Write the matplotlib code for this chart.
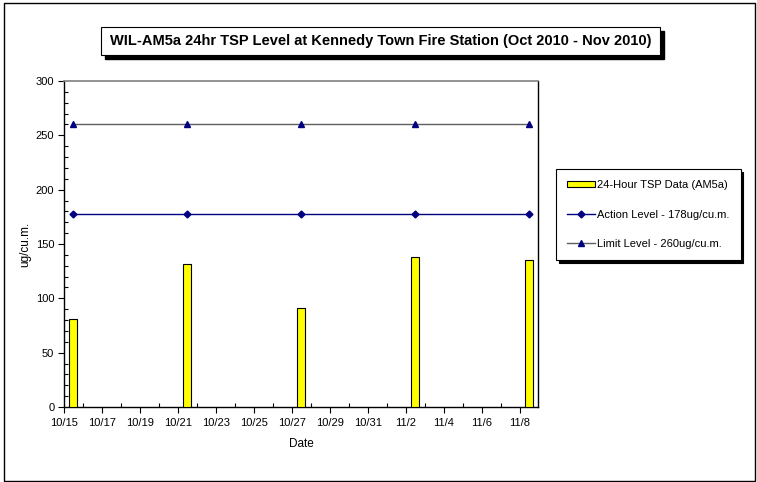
import datetime
import matplotlib
matplotlib.use("Agg")
import matplotlib.pyplot as plt
import matplotlib.dates as mdates
from matplotlib.patches import Rectangle
from matplotlib.ticker import FuncFormatter, MultipleLocator, FixedLocator

plt.rcParams['font.family'] = ['Liberation Sans', 'DejaVu Sans']

# sampling dates and 24hr TSP values (ug/cu.m.)
dates = ['2010-10-15', '2010-10-21', '2010-10-27', '2010-11-02', '2010-11-08']
tsp = [81, 132, 91, 138, 135]
action_level = [178, 178, 178, 178, 178]
limit_level = [260, 260, 260, 260, 260]

title = 'WIL-AM5a 24hr TSP Level at Kennedy Town Fire Station (Oct 2010 - Nov 2010)'
labels = ['24-Hour TSP Data (AM5a)', 'Action Level - 178ug/cu.m.', 'Limit Level - 260ug/cu.m.']

W, H = 757, 482
fig = plt.figure(figsize=(W / 100, H / 100), dpi=100)
ax = fig.add_axes([64 / W, 1 - 407 / H, (538 - 64) / W, (407 - 81) / H])

# samples are plotted at noon of each day
x = [mdates.date2num(datetime.datetime.strptime(d, '%Y-%m-%d')) + 0.47 for d in dates]
bw = 0.42

# grey shadow behind each bar, then the bar itself
ax.bar([v + 0.07 for v in x], tsp, width=bw, color='#808080', edgecolor='none', zorder=2)
bars = ax.bar(x, tsp, width=bw, color='#ffff00', edgecolor='black', linewidth=0.8, zorder=3)
la, = ax.plot(x, action_level, color='#000080', marker='D', markersize=3.5, linewidth=1, zorder=4)
ll, = ax.plot(x, limit_level, color='#606060', marker='^', markersize=5,
              markerfacecolor='#000080', markeredgecolor='#000080', linewidth=1, zorder=4)

start = mdates.date2num(datetime.datetime(2010, 10, 15))
ax.set_xlim(start, start + 24.95)
ax.set_ylim(0, 300)

ax.xaxis.set_major_locator(FixedLocator([start + d for d in range(0, 25, 2)]))
ax.xaxis.set_minor_locator(FixedLocator([start + d for d in range(1, 25, 2)]))
ax.xaxis.set_major_formatter(FuncFormatter(
    lambda v, p: '%d/%d' % (mdates.num2date(v).month, mdates.num2date(v).day)))
ax.yaxis.set_major_locator(MultipleLocator(50))
ax.yaxis.set_minor_locator(MultipleLocator(10))
ax.tick_params(which='major', direction='out', length=4, labelsize=8, width=0.8)
ax.tick_params(which='minor', direction='in', length=3, width=0.8)
ax.tick_params(axis='x', pad=4)
ax.tick_params(axis='y', pad=3)

ax.spines['top'].set_color('#808080')
ax.spines['top'].set_linewidth(1.2)
for s in ['left', 'bottom', 'right']:
    ax.spines[s].set_linewidth(1)

ax.set_xlabel('Date', fontsize=8.5, labelpad=7)
ax.set_ylabel('ug/cu.m.', fontsize=8.5, labelpad=3)

# title in a box with a drop shadow
tx0, ty0, tx1, ty1 = 101, 27, 660, 55
fig.add_artist(Rectangle(((tx0 + 4) / W, 1 - (ty1 + 4) / H), (tx1 - tx0) / W, (ty1 - ty0) / H,
                         transform=fig.transFigure, facecolor='black', edgecolor='black', zorder=1))
fig.add_artist(Rectangle((tx0 / W, 1 - ty1 / H), (tx1 - tx0) / W, (ty1 - ty0) / H,
                         transform=fig.transFigure, facecolor='white', edgecolor='black',
                         linewidth=0.8, zorder=2))
fig.text((tx0 + tx1) / 2 / W, 1 - (ty0 + ty1) / 2 / H, title, ha='center', va='center',
         fontsize=10.5, fontweight='bold', zorder=3)

# legend box with a drop shadow
leg = fig.legend([bars, la, ll], labels, loc='upper left',
                 bbox_to_anchor=(556 / W, 1 - 169 / H), fontsize=8,
                 frameon=True, fancybox=False, edgecolor='black', framealpha=1,
                 shadow={'color': 'black', 'alpha': 1}, handlelength=2.5,
                 handleheight=0.5, handletextpad=0.2, labelspacing=1.75,
                 borderpad=1.0, borderaxespad=0)
leg.get_frame().set_linewidth(0.8)

# figure border
fig.add_artist(Rectangle((4 / W, 1 / H), 751 / W, 478 / H, transform=fig.transFigure,
                         facecolor='none', edgecolor='black', linewidth=1))

fig.savefig('out.png', dpi=100)
